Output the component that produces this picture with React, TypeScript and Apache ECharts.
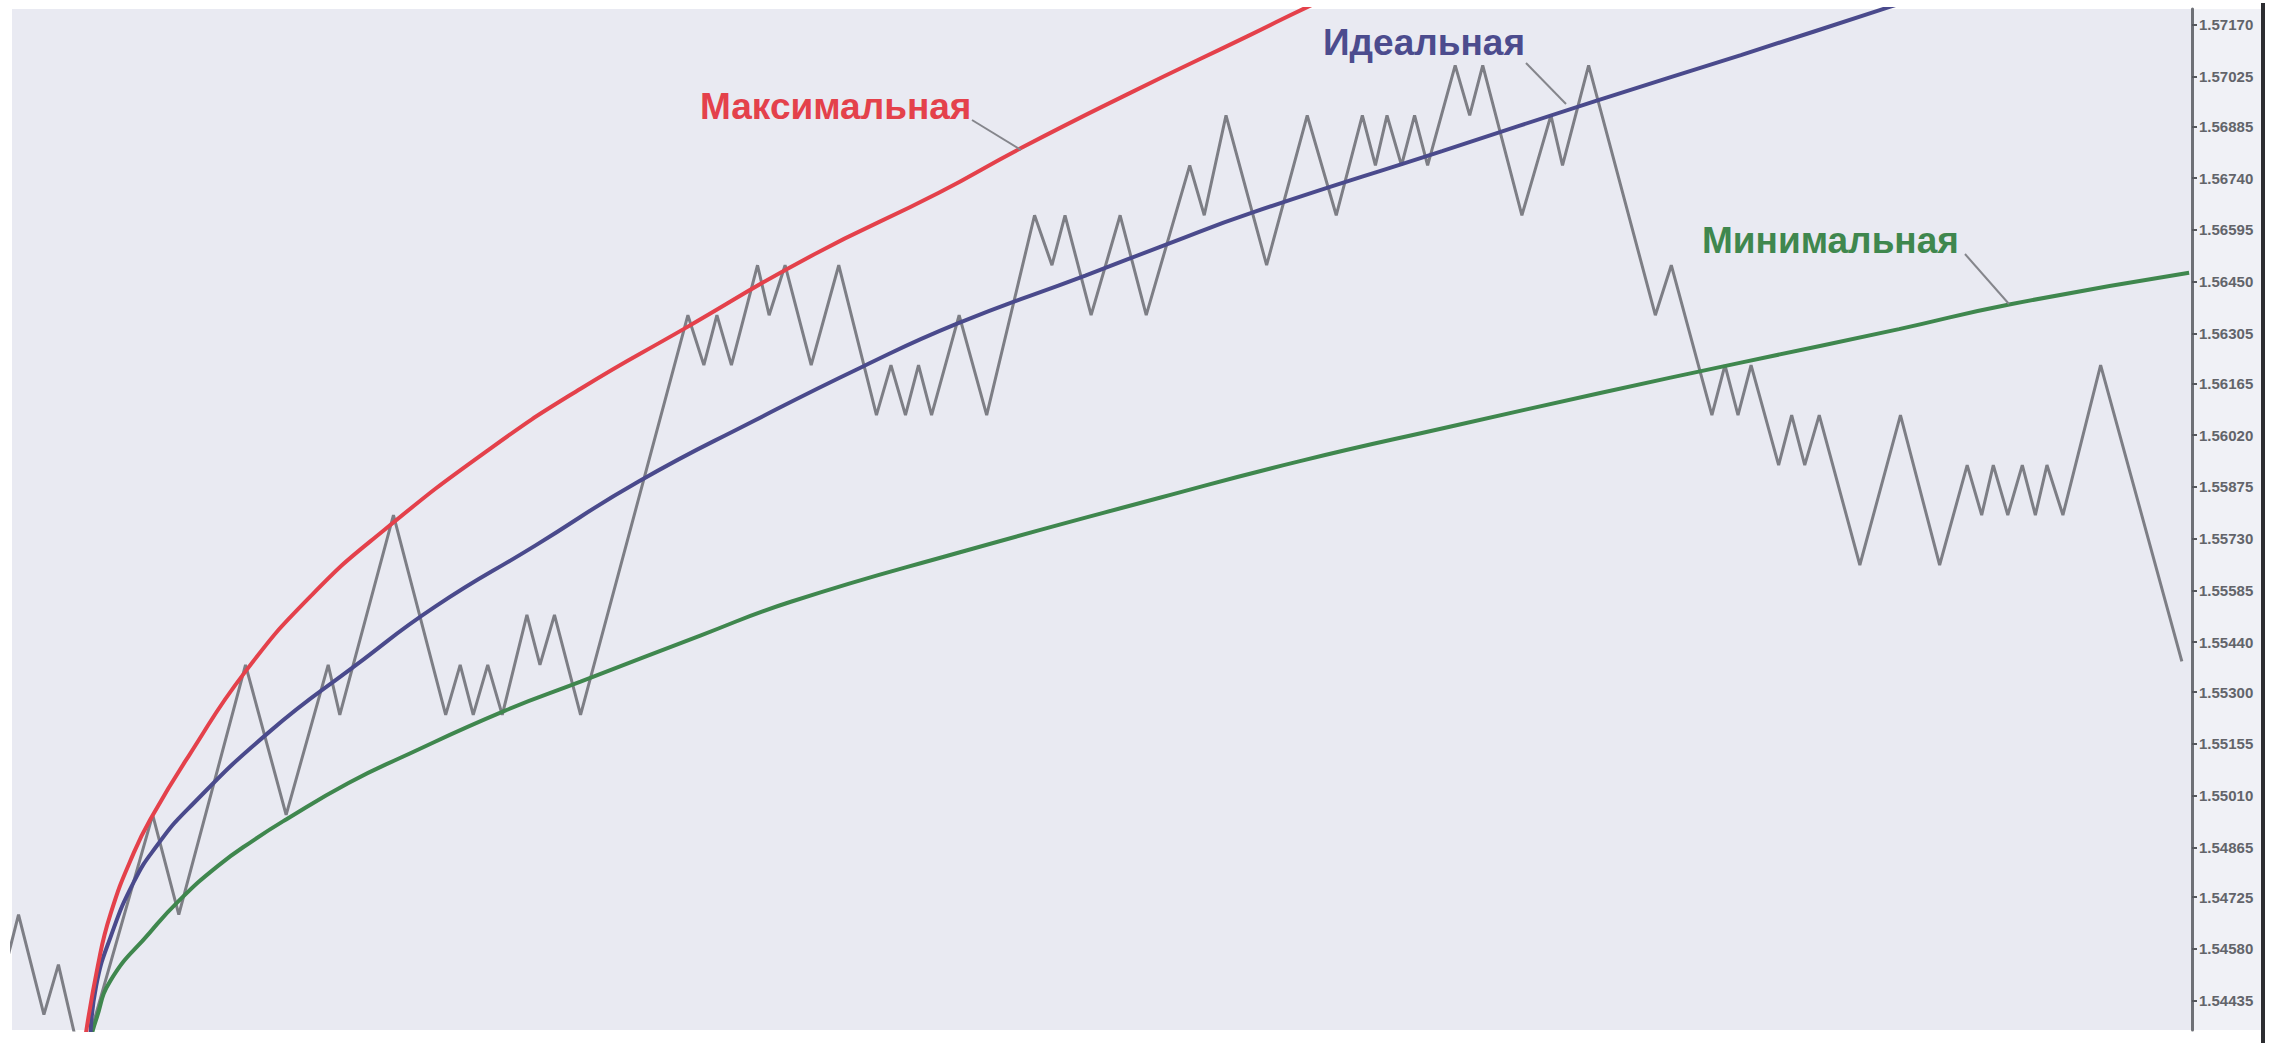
import React, { useEffect, useRef } from "react";
import * as echarts from "echarts";

// Right price-scale tick labels
const tickLabels = [
  "1.57170", "1.57025", "1.56885", "1.56740", "1.56595", "1.56450", "1.56305",
  "1.56165", "1.56020", "1.55875", "1.55730", "1.55585", "1.55440", "1.55300",
  "1.55155", "1.55010", "1.54865", "1.54725", "1.54580", "1.54435",
];

// Price zig-zag (time index, price)
const priceTime = [
  -5, 12.5, 30, 40, 56, 105, 123, 169, 197, 226, 234, 271, 307, 317, 326, 336, 346,
  363, 372, 382, 400, 474, 485, 494, 504, 522, 530, 541, 559, 578, 604, 614, 624, 633,
  642, 661, 680, 713, 725, 734, 752, 772, 790, 820, 830, 845, 873, 901, 921, 939, 948,
  956, 966, 975, 984, 1003, 1013, 1022, 1049, 1069, 1077, 1095, 1141, 1152, 1180, 1189,
  1198, 1207, 1226, 1235, 1244, 1254, 1282, 1310, 1337, 1356, 1366, 1374, 1384, 1394,
  1403, 1411, 1422, 1448, 1504,
];
const priceValues = [
  1.54396, 1.54676, 1.54396, 1.54536, 1.54256, 1.54956, 1.54676, 1.55376, 1.54956,
  1.55376, 1.55236, 1.55796, 1.55236, 1.55376, 1.55236, 1.55376, 1.55236, 1.55516,
  1.55376, 1.55516, 1.55236, 1.56356, 1.56216, 1.56356, 1.56216, 1.56496, 1.56356,
  1.56496, 1.56216, 1.56496, 1.56076, 1.56216, 1.56076, 1.56216, 1.56076, 1.56356,
  1.56076, 1.56636, 1.56496, 1.56636, 1.56356, 1.56636, 1.56356, 1.56776, 1.56636,
  1.56916, 1.56496, 1.56916, 1.56636, 1.56916, 1.56776, 1.56916, 1.56776, 1.56916,
  1.56776, 1.57056, 1.56916, 1.57056, 1.56636, 1.56916, 1.56776, 1.57056, 1.56356,
  1.56496, 1.56076, 1.56216, 1.56076, 1.56216, 1.55936, 1.56076, 1.55936, 1.56076,
  1.55656, 1.56076, 1.55656, 1.55936, 1.55796, 1.55936, 1.55796, 1.55936, 1.55796,
  1.55936, 1.55796, 1.56216, 1.55386,
];

// "Максимальная" curve
const maxTime = [58, 67, 76, 92, 105, 130, 169, 215, 264, 338, 400, 471, 558, 647, 704, 779, 860, 905, 960];
const maxValues = [
  1.54317, 1.54529, 1.54679, 1.5485, 1.54955, 1.55122, 1.55358, 1.55573, 1.55752,
  1.55983, 1.5615, 1.56317, 1.5652, 1.56699, 1.56825, 1.56979, 1.57138, 1.57227, 1.57329,
];

// "Идеальная" curve
const idealTime = [62, 66, 76, 92, 108, 129, 185, 246, 300, 369, 440, 520, 594, 660, 748, 805, 862, 994, 1099, 1200, 1302, 1360];
const idealValues = [
  1.54325, 1.54476, 1.54614, 1.54768, 1.5487, 1.54971, 1.55187, 1.55378, 1.5554,
  1.55711, 1.5589, 1.56061, 1.56211, 1.56333, 1.56467, 1.56556, 1.56642, 1.56816,
  1.56955, 1.57085, 1.57219, 1.57296,
];

// "Минимальная" curve
const minTime = [62, 66, 76, 103, 123, 150, 175, 197, 240, 277, 348, 400, 483, 545, 661, 800, 896, 1000, 1103, 1200, 1309, 1385, 1509];
const minValues = [
  1.54325, 1.54382, 1.54492, 1.54626, 1.54715, 1.54813, 1.54886, 1.54943, 1.55045,
  1.55118, 1.55248, 1.55329, 1.55459, 1.55553, 1.55691, 1.55845, 1.55947, 1.56044,
  1.56138, 1.56223, 1.56317, 1.56386, 1.56475,
];

const pairs = (t: number[], v: number[]) => t.map((x, i) => [x, v[i]]);

export default function App() {
  const ref = useRef<HTMLDivElement>(null);

  useEffect(() => {
    if (!ref.current) return;
    const chart = echarts.init(ref.current, undefined, { renderer: "svg" });
    const tickValues = tickLabels.map(Number);
    const font = "Liberation Sans, Arial, sans-serif";

    chart.setOption({
      animation: false,
      backgroundColor: "#ffffff",
      grid: {
        left: 12,
        top: 9,
        right: 82,
        bottom: 13,
        show: true,
        backgroundColor: "#e9eaf2",
        borderWidth: 0,
      },
      xAxis: {
        type: "value",
        min: 8,
        max: 1511,
        show: false,
      },
      yAxis: {
        type: "value",
        position: "right",
        min: 1.54353,
        max: 1.57214,
        scale: true,
        splitLine: { show: false },
        axisLine: { show: true, lineStyle: { color: "#6e7076", width: 3 } },
        axisTick: {
          show: true,
          customValues: tickValues,
          length: 5,
          lineStyle: { color: "#55575c", width: 2 },
        },
        axisLabel: {
          show: true,
          customValues: tickValues,
          formatter: (v: number) => v.toFixed(5),
          color: "#62646a",
          fontSize: 15,
          fontWeight: "bold",
          fontFamily: font,
          margin: 7,
        },
      },
      graphic: [
        {
          type: "rect",
          z: -1,
          shape: { x: 2193, y: 9, width: 69, height: 1021 },
          style: { fill: "#f0f1f6" },
          silent: true,
        },
        {
          type: "rect",
          z: 50,
          shape: { x: 2261, y: 3, width: 4, height: 1040 },
          style: { fill: "#2c2d31" },
          silent: true,
        },
        {
          type: "line",
          z: 50,
          shape: { x1: 972, y1: 120, x2: 1021, y2: 150 },
          style: { stroke: "#85868c", lineWidth: 2 },
        },
        {
          type: "line",
          z: 50,
          shape: { x1: 1526, y1: 63, x2: 1566, y2: 104 },
          style: { stroke: "#85868c", lineWidth: 2 },
        },
        {
          type: "line",
          z: 50,
          shape: { x1: 1965, y1: 254, x2: 2009, y2: 304 },
          style: { stroke: "#85868c", lineWidth: 2 },
        },
        {
          type: "text",
          z: 60,
          style: {
            text: "Максимальная",
            x: 700,
            y: 106,
            fill: "#e4414b",
            font: `bold 37px ${font}`,
            textVerticalAlign: "middle",
          },
        },
        {
          type: "text",
          z: 60,
          style: {
            text: "Идеальная",
            x: 1323,
            y: 42,
            fill: "#4c4c8e",
            font: `bold 37px ${font}`,
            textVerticalAlign: "middle",
          },
        },
        {
          type: "text",
          z: 60,
          style: {
            text: "Минимальная",
            x: 1702,
            y: 240,
            fill: "#3f874e",
            font: `bold 37px ${font}`,
            textVerticalAlign: "middle",
          },
        },
      ],
      series: [
        {
          name: "Цена",
          type: "line",
          data: pairs(priceTime, priceValues),
          symbol: "none",
          z: 3,
          lineStyle: { color: "#7d7e85", width: 3 },
        },
        {
          name: "Минимальная",
          type: "line",
          data: pairs(minTime, minValues),
          symbol: "none",
          smooth: 0.5,
          z: 4,
          lineStyle: { color: "#3f874e", width: 4 },
        },
        {
          name: "Идеальная",
          type: "line",
          data: pairs(idealTime, idealValues),
          symbol: "none",
          smooth: 0.5,
          z: 4,
          lineStyle: { color: "#4a4a8c", width: 4 },
        },
        {
          name: "Максимальная",
          type: "line",
          data: pairs(maxTime, maxValues),
          symbol: "none",
          smooth: 0.5,
          z: 4,
          lineStyle: { color: "#e4414b", width: 4 },
        },
      ],
    });

    return () => chart.dispose();
  }, []);

  return (
    <div
      ref={ref}
      style={{ position: "absolute", left: 0, top: 0, width: 2274, height: 1043 }}
    />
  );
}
